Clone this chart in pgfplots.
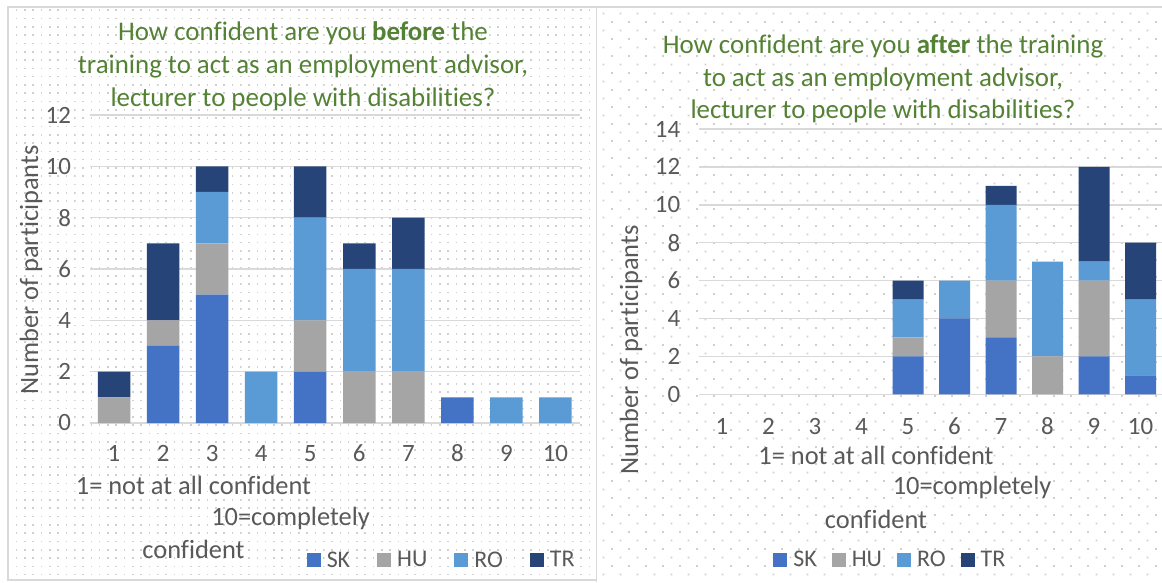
\documentclass[border=0pt]{standalone}
\usepackage{pgfplots}
\pgfplotsset{compat=1.18}
\usepackage{pgfplotstable}
\usepackage{fontspec}
\setmainfont{Carlito}[Ligatures=NoCommon]
\usetikzlibrary{patterns}
\definecolor{sk}{HTML}{4472C4}
\definecolor{hu}{HTML}{A5A5A5}
\definecolor{ro}{HTML}{5B9BD5}
\definecolor{tr}{HTML}{264478}
\definecolor{ttl}{HTML}{548235}
\definecolor{txt}{HTML}{595959}
\definecolor{grd}{HTML}{D9D9D9}
\definecolor{dotc}{HTML}{D0D0D0}

\pgfdeclarepatternformonly{dotsA}{\pgfqpoint{-1bp}{-1bp}}{\pgfqpoint{1bp}{1bp}}{\pgfqpoint{8.3bp}{8.3bp}}{\pgfpathrectangle{\pgfqpoint{-0.8bp}{-0.8bp}}{\pgfqpoint{1.6bp}{1.6bp}}\pgfusepath{fill}}
\pgfdeclarepatternformonly{dotsB}{\pgfqpoint{-1bp}{-1bp}}{\pgfqpoint{9.5bp}{9.5bp}}{\pgfqpoint{17bp}{17bp}}{\pgfpathrectangle{\pgfqpoint{-0.8bp}{-0.8bp}}{\pgfqpoint{1.6bp}{1.6bp}}\pgfpathrectangle{\pgfqpoint{7.7bp}{7.7bp}}{\pgfqpoint{1.6bp}{1.6bp}}\pgfusepath{fill}}

\pgfplotstableread{
x SK HU RO TR
1 0 1 0 1
2 3 1 0 3
3 5 2 2 1
4 0 0 2 0
5 2 2 4 2
6 0 2 4 1
7 0 2 4 2
8 1 0 0 0
9 0 0 1 0
10 0 0 1 0
}\before

\pgfplotstableread{
x SK HU RO TR
1 0 0 0 0
2 0 0 0 0
3 0 0 0 0
4 0 0 0 0
5 2 1 2 1
6 4 0 2 0
7 3 3 4 1
8 0 2 5 0
9 2 4 1 5
10 1 0 4 3
}\after

\pgfplotsset{
  mybar/.style={
    scale only axis, ybar stacked, xmin=0.5, xmax=10.5, ymin=0,
    xtick={1,...,10},
    axis line style={draw=none}, major tick length=0pt,
    ymajorgrids, grid style={grd, line width=1.5bp},
    tick label style={font=\fontsize{25}{25}\selectfont, text=txt},
    /pgf/number format/assume math mode=true,
    yticklabel style={anchor=east, xshift=-15bp},
    clip=false,
    legend columns=4,
    legend image code/.code={\fill[##1] (0bp,-7bp) rectangle (14bp,7bp);},
    every axis plot/.append style={draw=none},
  },
}
\tikzset{lfont/.style={font=\fontsize{26.5}{26.5}\selectfont, text=txt}}

\begin{document}
\begin{tikzpicture}
\path[use as bounding box] (0,0) rectangle (1162bp,583bp);
\clip (0,0) rectangle (1162bp,583bp);
\fill[white] (0,0) rectangle (1162bp,583bp);
% panels
\fill[pattern=dotsA, pattern color=dotc] (8bp,3bp) rectangle (596bp,576bp);
\fill[pattern=dotsB, pattern color=dotc] (597bp,1bp) rectangle (1162bp,576bp);
\draw[grd, line width=1.5bp] (8bp,3bp) rectangle (596.5bp,576bp);
\draw[grd, line width=1.5bp] (596.5bp,1bp) -- (596.5bp,576bp) -- (1165bp,576bp);

% ---------- left chart ----------
\begin{axis}[mybar, at={(89.5bp,160bp)}, anchor=south west,
  width=490.5bp, height=308bp, ymax=12, ytick={0,2,...,12},
  bar width=32.5bp,
  xticklabel style={anchor=base, yshift=-38.5bp},
  legend style={at={(0.718,-0.445)}, anchor=center, draw=none, fill=none,
    font=\fontsize{24}{24}\selectfont, text=txt,
    /tikz/every odd column/.append style={column sep=4bp},
    /tikz/every even column/.append style={column sep=25bp}},
]
\addplot[fill=sk] table[x=x,y=SK]{\before};
\addplot[fill=hu] table[x=x,y=HU]{\before};
\addplot[fill=ro] table[x=x,y=RO]{\before};
\addplot[fill=tr] table[x=x,y=TR]{\before};
\legend{SK,HU,RO,TR}
\end{axis}

% ---------- right chart ----------
\begin{axis}[mybar, at={(698.75bp,188.7bp)}, anchor=south west,
  width=465bp, height=265.3bp, ymax=14, ytick={0,2,...,14},
  bar width=31bp,
  xticklabel style={anchor=base, yshift=-40.5bp},
  legend style={at={(0.412,-0.623)}, anchor=center, draw=none, fill=none,
    font=\fontsize{24}{24}\selectfont, text=txt,
    /tikz/every odd column/.append style={column sep=4bp},
    /tikz/every even column/.append style={column sep=13bp}},
]
\addplot[fill=sk] table[x=x,y=SK]{\after};
\addplot[fill=hu] table[x=x,y=HU]{\after};
\addplot[fill=ro] table[x=x,y=RO]{\after};
\addplot[fill=tr] table[x=x,y=TR]{\after};
\legend{SK,HU,RO,TR}
\end{axis}

% titles
\node[text=ttl, align=center, font=\fontsize{27}{33}\selectfont] at (303bp,517bp)
  {How confident are you \textbf{before} the\\training to act as an employment advisor,\\lecturer to people with disabilities?};
\node[text=ttl, align=center, font=\fontsize{27}{32.5}\selectfont] at (883bp,504bp)
  {How confident are you \textbf{after} the training\\to act as an employment advisor,\\lecturer to people with disabilities?};

% y titles
\node[lfont, rotate=90] at (31bp,313bp) {Number of participants};
\node[lfont, rotate=90] at (631bp,233bp) {Number of participants};

% x titles
\node[lfont] at (193.5bp,98bp) {1= not at all confident};
\node[lfont] at (290.5bp,65bp) {10=completely};
\node[lfont] at (193.5bp,34bp) {confident};
\node[lfont] at (876bp,128bp) {1= not at all confident};
\node[lfont] at (972bp,96bp) {10=completely};
\node[lfont] at (876bp,64bp) {confident};
\end{tikzpicture}
\end{document}
